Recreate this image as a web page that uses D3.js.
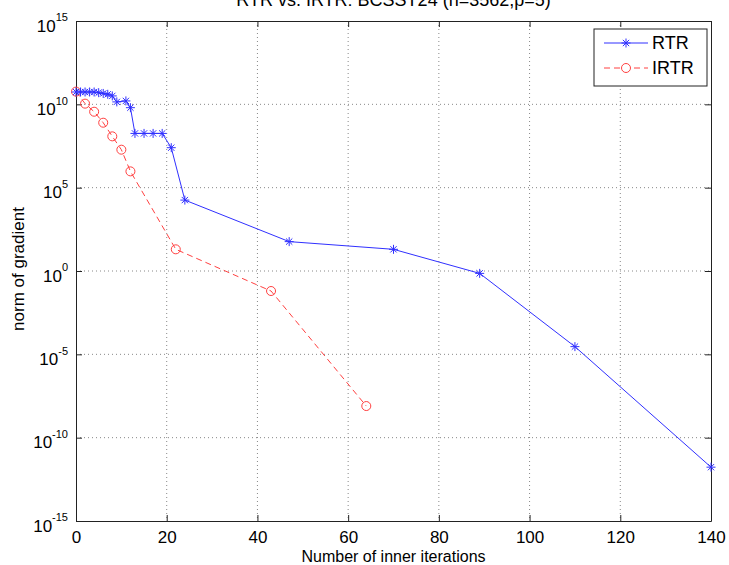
<!DOCTYPE html>
<html>
<head>
<meta charset="utf-8">
<script src="https://cdn.jsdelivr.net/npm/d3@7"></script>
<style>
  body { margin: 0; background: #fff; }
  text { font-family: "Liberation Sans", Arial, sans-serif; }
</style>
</head>
<body>
<div id="chart"></div>
<script>
// data
var rtrIter = [0, 1, 2, 3, 4, 5, 6, 7, 8, 9, 11, 12, 13, 15, 17, 19, 21, 24, 47, 70, 89, 110, 140];
var rtrGrad = [5.5e10, 5.5e10, 5.5e10, 5.5e10, 5.5e10, 5.0e10, 4.5e10, 4.0e10, 3.2e10, 1.4e10, 1.6e10, 6.3e9,
               1.8e8, 1.8e8, 1.8e8, 1.8e8, 2.5e7, 1.8e4, 58, 20, 0.72, 2.9e-5, 1.7e-12];
var irtrIter = [0, 2, 4, 6, 8, 10, 12, 22, 43, 64];
var irtrGrad = [5.8e10, 1.1e10, 3.6e9, 7.9e8, 1.2e8, 1.9e7, 9.5e5, 20, 0.063, 7.9e-9];
var xTicks = [0, 20, 40, 60, 80, 100, 120, 140];
var yTickExp = [-15, -10, -5, 0, 5, 10, 15];
var seriesNames = ["RTR", "IRTR"];

var W = 729, H = 565;
var margin = {top: 21, right: 18, bottom: 44, left: 76},
    width = W - margin.left - margin.right,
    height = H - margin.top - margin.bottom;

var svg = d3.select("#chart").append("svg")
    .attr("width", W)
    .attr("height", H);

var g = svg.append("g")
    .attr("transform", "translate(" + margin.left + "," + margin.top + ")");

var x = d3.scaleLinear().domain([0, 140]).range([0, width]);
var y = d3.scaleLog().domain([1e-15, 1e15]).range([height, 0]);

// grid
g.append("g").selectAll("line").data(xTicks.slice(1, -1)).join("line")
    .attr("x1", d => x(d)).attr("x2", d => x(d))
    .attr("y1", 0).attr("y2", height)
    .attr("stroke", "#888").attr("stroke-width", 1)
    .attr("stroke-dasharray", "1,3");
g.append("g").selectAll("line").data(yTickExp.slice(1, -1)).join("line")
    .attr("x1", 0).attr("x2", width)
    .attr("y1", d => y(Math.pow(10, d))).attr("y2", d => y(Math.pow(10, d)))
    .attr("stroke", "#888").attr("stroke-width", 1)
    .attr("stroke-dasharray", "1,3");

// axes (ticks inside, like matlab)
var xAxis = g.append("g")
    .attr("transform", "translate(0," + height + ")")
    .call(d3.axisBottom(x).tickValues(xTicks).tickSizeInner(-6).tickSizeOuter(0).tickPadding(10));
var xTop = g.append("g")
    .call(d3.axisTop(x).tickValues(xTicks).tickSizeInner(-6).tickSizeOuter(0).tickFormat(""));
var yAxis = g.append("g")
    .call(d3.axisLeft(y).tickValues(yTickExp.map(e => Math.pow(10, e))).tickSizeInner(-6).tickSizeOuter(0).tickPadding(8));
var yRight = g.append("g")
    .attr("transform", "translate(" + width + ",0)")
    .call(d3.axisRight(y).tickValues(yTickExp.map(e => Math.pow(10, e))).tickSizeInner(-6).tickSizeOuter(0).tickFormat(""));

[xAxis, xTop, yAxis, yRight].forEach(function(a) {
  a.select(".domain").attr("stroke", "#222");
  a.selectAll(".tick line").attr("stroke", "#222");
});

xAxis.selectAll("text")
    .attr("font-size", 17).attr("fill", "#000")
    .style("font-family", "Liberation Sans, Arial, sans-serif");

yAxis.selectAll(".tick text")
    .attr("font-size", 17).attr("fill", "#000")
    .style("font-family", "Liberation Sans, Arial, sans-serif")
    .attr("dy", "0.6em")
    .each(function(d) {
      var t = d3.select(this).text("");
      t.append("tspan").text("10");
      t.append("tspan").attr("font-size", 11).attr("dy", "-0.95em").text(Math.round(Math.log10(d)));
    });

// lines
var line = d3.line().x(d => x(d[0])).y(d => y(d[1]));
var rtr = rtrIter.map((v, i) => [v, rtrGrad[i]]);
var irtr = irtrIter.map((v, i) => [v, irtrGrad[i]]);

var blue = "#3030ff", red = "#ff4040";

g.append("path").datum(irtr)
    .attr("fill", "none").attr("stroke", red).attr("stroke-width", 1)
    .attr("stroke-dasharray", "6,4").attr("d", line);
g.append("g").selectAll("circle").data(irtr).join("circle")
    .attr("cx", d => x(d[0])).attr("cy", d => y(d[1])).attr("r", 4.5)
    .attr("fill", "none").attr("stroke", red).attr("stroke-width", 1);

g.append("path").datum(rtr)
    .attr("fill", "none").attr("stroke", blue).attr("stroke-width", 1)
    .attr("d", line);

function star(s) {
  var a = s * 0.7;
  return "M" + (-s) + ",0H" + s + "M0," + (-s) + "V" + s +
         "M" + (-a) + "," + (-a) + "L" + a + "," + a +
         "M" + (-a) + "," + a + "L" + a + "," + (-a);
}
g.append("g").selectAll("path").data(rtr).join("path")
    .attr("transform", d => "translate(" + x(d[0]) + "," + y(d[1]) + ")")
    .attr("d", star(4.5))
    .attr("fill", "none").attr("stroke", blue).attr("stroke-width", 1);

// title (clipped at top like the original)
svg.append("text")
    .attr("x", margin.left + width / 2).attr("y", 6)
    .attr("text-anchor", "middle").attr("font-size", 18)
    .text("RTR vs. IRTR: BCSST24 (n=3562,p=5)");

// axis labels
svg.append("text")
    .attr("x", margin.left + width / 2).attr("y", 562)
    .attr("text-anchor", "middle").attr("font-size", 16)
    .text("Number of inner iterations");
svg.append("text")
    .attr("transform", "translate(24," + (margin.top + height / 2 - 2) + ") rotate(-90)")
    .attr("text-anchor", "middle").attr("font-size", 17)
    .text("norm of gradient");

// legend
var lg = svg.append("g").attr("transform", "translate(594,29)");
lg.append("rect").attr("width", 113).attr("height", 57)
    .attr("fill", "#fff").attr("stroke", "#222").attr("stroke-width", 1);
var items = [
  {name: seriesNames[0], color: blue, dash: null, mark: "star"},
  {name: seriesNames[1], color: red, dash: "6,4", mark: "circle"}
];
items.forEach(function(it, i) {
  var yy = 14 + i * 25;
  lg.append("line").attr("x1", 10).attr("x2", 54).attr("y1", yy).attr("y2", yy)
      .attr("stroke", it.color).attr("stroke-dasharray", it.dash);
  if (it.mark === "star") {
    lg.append("path").attr("transform", "translate(32," + yy + ")")
        .attr("d", star(4.5)).attr("fill", "none").attr("stroke", it.color);
  } else {
    lg.append("circle").attr("cx", 32).attr("cy", yy).attr("r", 4.5)
        .attr("fill", "#fff").attr("stroke", it.color);
  }
  lg.append("text").attr("x", 58).attr("y", yy).attr("dy", "0.36em")
      .attr("font-size", 18).text(it.name);
});
</script>
</body>
</html>
